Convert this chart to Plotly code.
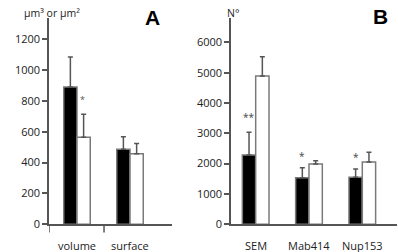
import plotly.graph_objects as go

# Panel A data
cats_a = ["volume", "surface"]
ctrl_a = [889, 486]
ctrl_a_err = [194, 81]
treat_a = [563, 457]
treat_a_err = [149, 67]
yticks_a = [0, 200, 400, 600, 800, 1000, 1200]

# Panel B data
cats_b = ["SEM", "Mab414", "Nup153"]
ctrl_b = [2285, 1537, 1550]
ctrl_b_err = [748, 329, 273]
treat_b = [4890, 1988, 2054]
treat_b_err = [636, 109, 320]
yticks_b = [0, 1000, 2000, 3000, 4000, 5000, 6000]

# significance marks: (category index, text, y value)
sig_a = [(0, "*", 805)]
sig_b = [(0, "**", 3528), (1, "*", 2252), (2, "*", 2209)]

FONT = "Open Sans"
AX = "#555555"
OUT = "#7a7a7a"
ERR = "#555555"

W, H = 398, 252
def px(x):
    return x / W
def py(y):
    return (H - y) / H

xa = list(range(len(cats_a)))
xb = list(range(len(cats_b)))

fig = go.Figure()

def add_pair(xs, c, ce, t, te, xax, yax):
    fig.add_trace(go.Bar(
        x=[x - 0.125 for x in xs], y=c, width=0.25,
        marker=dict(color="black", line=dict(color=OUT, width=1.5)),
        error_y=dict(type="data", symmetric=False, array=ce, arrayminus=[0]*len(ce),
                     color=ERR, thickness=1.5, width=2.5),
        xaxis=xax, yaxis=yax, showlegend=False))
    fig.add_trace(go.Bar(
        x=[x + 0.125 for x in xs], y=t, width=0.25,
        marker=dict(color="white", line=dict(color=OUT, width=1.5)),
        error_y=dict(type="data", symmetric=False, array=te, arrayminus=[0]*len(te),
                     color=ERR, thickness=1.5, width=2.5),
        xaxis=xax, yaxis=yax, showlegend=False))

add_pair(xa, ctrl_a, ctrl_a_err, treat_a, treat_a_err, "x", "y")
add_pair(xb, ctrl_b, ctrl_b_err, treat_b, treat_b_err, "x2", "y2")

ydom = [py(224.3), py(18)]
common_x = dict(showline=True, linecolor=AX, linewidth=1.5, showgrid=False,
                zeroline=False, showticklabels=False, ticks="", fixedrange=True,
                automargin=False)
common_y = dict(showline=True, linecolor=AX, linewidth=1.5, showgrid=False,
                zeroline=False, ticks="outside", ticklen=5, tickwidth=1.5,
                tickcolor=AX, tickfont=dict(family=FONT, size=11, color="#222"),
                domain=ydom, tickmode="array", automargin=False)

fig.update_layout(
    width=W, height=H, margin=dict(l=0, r=0, t=0, b=0, pad=0, autoexpand=False),
    paper_bgcolor="white", plot_bgcolor="white",
    barmode="overlay",
    xaxis=dict(domain=[px(49), px(172)], range=[-0.528, 1.792], anchor="y", **common_x),
    yaxis=dict(range=[0, 1336], tickvals=yticks_a, anchor="x", **common_y),
    xaxis2=dict(domain=[px(231), px(397)], range=[-0.463, 2.651], anchor="y2", **common_x),
    yaxis2=dict(range=[0, 6802], tickvals=yticks_b, anchor="x2", **common_y),
)

# panel A x-axis tick marks (axis origin and separator)
for xv in [-0.528, 0.51]:
    fig.add_shape(type="line", xref="x", yref="y domain", x0=xv, x1=xv, y0=0, y1=-0.04,
                  line=dict(color=AX, width=1.5))

C = dict(showarrow=False, xanchor="center", yanchor="middle")
ann = []
for i, c in enumerate(cats_a):
    ann.append(dict(x=xa[i], y=py(245.7), xref="x", yref="paper", text=c,
                    font=dict(family=FONT, size=11, color="#222"), **C))
for i, c in enumerate(cats_b):
    ann.append(dict(x=xb[i], y=py(245.7), xref="x2", yref="paper", text=c,
                    font=dict(family=FONT, size=11, color="#222"), **C))
for i, s, yv in sig_a:
    ann.append(dict(x=xa[i] + 0.1, y=yv, xref="x", yref="y", text=s,
                    font=dict(family=FONT, size=9, color="#555"), **C))
for i, s, yv in sig_b:
    ann.append(dict(x=xb[i] - 0.125, y=yv, xref="x2", yref="y2", text=s,
                    font=dict(family=FONT, size=10, color="#444"), **C))

ann.append(dict(x=px(52), y=py(13), xref="paper", yref="paper", text="μm³ or μm²",
                font=dict(family=FONT, size=10.5, color="#222"), **C))
ann.append(dict(x=px(233), y=py(13), xref="paper", yref="paper", text="N°",
                font=dict(family=FONT, size=10.5, color="#222"), **C))
ann.append(dict(x=px(152), y=py(18), xref="paper", yref="paper", text="<b>A</b>",
                font=dict(family="Liberation Sans", size=21, color="black"), **C))
ann.append(dict(x=px(380), y=py(17), xref="paper", yref="paper", text="<b>B</b>",
                font=dict(family="Liberation Sans", size=21, color="black"), **C))
fig.update_layout(annotations=ann)

fig.write_html("out.html")
